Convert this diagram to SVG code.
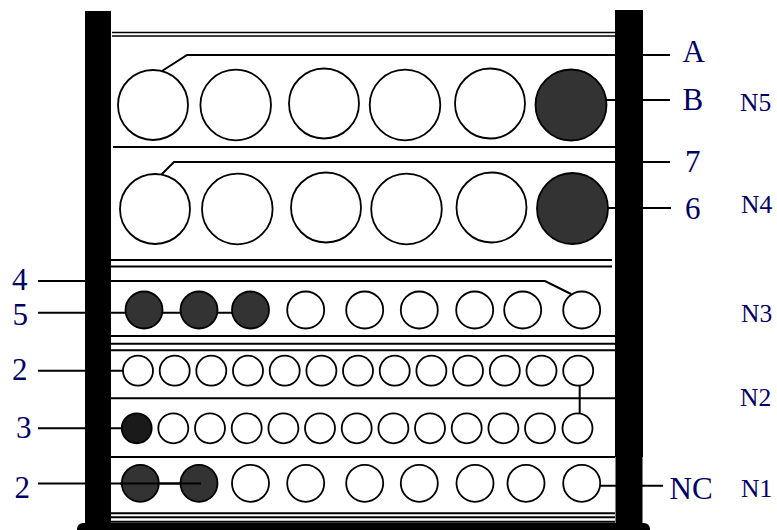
<svg xmlns="http://www.w3.org/2000/svg" width="777" height="530" viewBox="0 0 777 530">
<style>
.p{fill:#000}
.l{fill:none;stroke:#000;stroke-width:2}
.s{fill:none;stroke:#000;stroke-width:1.6}
.c{fill:#fff;stroke:#000;stroke-width:1.8}
.d{fill:#333;stroke:#000;stroke-width:1.8}
.k{fill:#1a1a1a;stroke:#000;stroke-width:1.8}
text{font-family:"Liberation Serif","Times New Roman",serif;fill:#000066}
.t{font-size:31px}
.n{font-size:25.500px}
</style>
<g id="connectors">
<path class="s" d="M112 32.500H615M112 36H615"/>
<path class="l" d="M113 147H615M111 260H612M111 266.500H612M111 336H615M111 343.700H615M111 350.300H615M111 398.300H615M111 457H615M111 513.300H615M111 517.300H615M111 521.700H615"/>
<path class="l" d="M162 71L187 55H670M161 175L174 162H670M606 100H670M606 208H671M38 281H545L571 294M38 312.700H250M38 370.700H123M38 428.300H122M38 483.600H201M600 485.700H663M579.700 370H579.700V428"/>
</g>
<g id="frame">
<rect class="p" x="85" y="11" width="26" height="514"/>
<rect class="p" x="615" y="10" width="28" height="447"/>
<rect class="p" x="615.500" y="457" width="27" height="68"/>
<rect class="p" x="77" y="523" width="573" height="12" rx="6"/>
</g>
<g id="n5">
<circle class="c" cx="153" cy="105" r="35"/><circle class="c" cx="235.700" cy="105" r="35.300"/><circle class="c" cx="324" cy="103.500" r="35"/><circle class="c" cx="405" cy="105" r="35.300"/><circle class="c" cx="490" cy="103.500" r="35"/><circle class="d" cx="571" cy="105" r="35.500"/>
</g>
<g id="n4">
<circle class="c" cx="155" cy="209" r="35"/><circle class="c" cx="237.300" cy="209" r="35.300"/><circle class="c" cx="326" cy="207.500" r="35"/><circle class="c" cx="406.500" cy="209" r="35.300"/><circle class="c" cx="491.500" cy="207.500" r="35"/><circle class="d" cx="572.500" cy="208.500" r="35.500"/>
</g>
<g id="n3">
<circle class="d" cx="144" cy="310" r="18.500"/><circle class="d" cx="199" cy="310" r="18.500"/><circle class="d" cx="250.500" cy="310" r="18.500"/><circle class="c" cx="305.700" cy="310" r="18.500"/><circle class="c" cx="364.700" cy="310" r="18.500"/><circle class="c" cx="419.300" cy="310" r="18.500"/><circle class="c" cx="474.700" cy="310" r="18.500"/><circle class="c" cx="522.700" cy="310" r="18.500"/><circle class="c" cx="581.700" cy="310" r="18.500"/>
</g>
<g id="n2a">
<circle class="c" cx="138" cy="370.700" r="15"/><circle class="c" cx="174.700" cy="370.700" r="15"/><circle class="c" cx="211.300" cy="370.700" r="15"/><circle class="c" cx="248" cy="370.700" r="15"/><circle class="c" cx="284.700" cy="370.700" r="15"/><circle class="c" cx="321.400" cy="370.700" r="15"/><circle class="c" cx="358" cy="370.700" r="15"/><circle class="c" cx="394.700" cy="370.700" r="15"/><circle class="c" cx="431.400" cy="370.700" r="15"/><circle class="c" cx="468" cy="370.700" r="15"/><circle class="c" cx="504.800" cy="370.700" r="15"/><circle class="c" cx="541.500" cy="370.700" r="15"/><circle class="c" cx="578.200" cy="370.700" r="15"/>
</g>
<g id="n2b">
<circle class="k" cx="136.700" cy="428.300" r="15"/><circle class="c" cx="173.300" cy="428.300" r="15"/><circle class="c" cx="210" cy="428.300" r="15"/><circle class="c" cx="246.700" cy="428.300" r="15"/><circle class="c" cx="283.400" cy="428.300" r="15"/><circle class="c" cx="320" cy="428.300" r="15"/><circle class="c" cx="356.700" cy="428.300" r="15"/><circle class="c" cx="393.400" cy="428.300" r="15"/><circle class="c" cx="430" cy="428.300" r="15"/><circle class="c" cx="466.700" cy="428.300" r="15"/><circle class="c" cx="503.400" cy="428.300" r="15"/><circle class="c" cx="540" cy="428.300" r="15"/><circle class="c" cx="577.500" cy="428.300" r="15"/>
</g>
<g id="n1">
<circle class="d" cx="140.300" cy="483.300" r="18.500"/><circle class="d" cx="199" cy="483.300" r="18.500"/><circle class="c" cx="250.500" cy="483.300" r="18.500"/><circle class="c" cx="305.700" cy="483.300" r="18.500"/><circle class="c" cx="364.700" cy="483.300" r="18.500"/><circle class="c" cx="419.300" cy="483.300" r="18.500"/><circle class="c" cx="475" cy="483.300" r="18.500"/><circle class="c" cx="526" cy="483.300" r="18.500"/><circle class="c" cx="581.700" cy="483.300" r="18.500"/>
<path class="l" d="M120 483.600H201"/>
</g>
<g id="labels">
<text class="t" x="682.500" y="62">A</text>
<text class="t" x="682.500" y="110">B</text>
<text class="t" x="685" y="171.500">7</text>
<text class="t" x="685" y="218.500">6</text>
<text class="t" x="12" y="290">4</text>
<text class="t" x="12.500" y="325">5</text>
<text class="t" x="12" y="379.500">2</text>
<text class="t" x="16" y="437.500">3</text>
<text class="t" x="14.500" y="497.500">2</text>
<text class="t" x="669.500" y="499.300">NC</text>
<text class="n" x="740" y="111">N5</text>
<text class="n" x="741" y="213.300">N4</text>
<text class="n" x="741" y="321.700">N3</text>
<text class="n" x="740" y="406">N2</text>
<text class="n" x="741" y="497.300">N1</text>
</g>
</svg>
